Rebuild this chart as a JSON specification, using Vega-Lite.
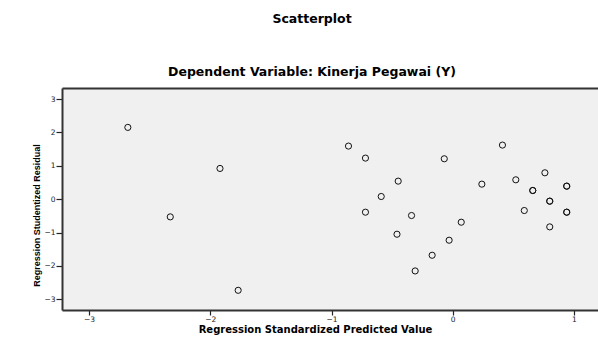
{
  "$schema": "https://vega.github.io/schema/vega-lite/v6.json",
  "width": 536,
  "height": 222,
  "autosize": {"type": "none"},
  "padding": {"left": 62, "top": 88, "right": 0, "bottom": 30},
  "background": "white",
  "title": {
    "text": "Scatterplot",
    "subtitle": "Dependent Variable: Kinerja Pegawai (Y)",
    "anchor": "middle",
    "dx": -18,
    "offset": 10,
    "font": "DejaVu Sans",
    "fontSize": 12.5,
    "fontWeight": "bold",
    "color": "#000",
    "subtitleFont": "DejaVu Sans",
    "subtitleFontSize": 12.5,
    "subtitleFontWeight": "bold",
    "subtitleColor": "#000",
    "subtitlePadding": 40
  },
  "config": {"view": {"stroke": null, "fill": "#f0f0f0"}},
  "data": {
    "values": [
      {"x": -2.68, "y": 2.15},
      {"x": -2.33, "y": -0.53},
      {"x": -1.92, "y": 0.92},
      {"x": -1.77, "y": -2.73},
      {"x": -0.86, "y": 1.59},
      {"x": -0.72, "y": 1.23},
      {"x": -0.07, "y": 1.21},
      {"x": 0.41, "y": 1.62},
      {"x": 0.76, "y": 0.79},
      {"x": -0.45, "y": 0.54},
      {"x": 0.24, "y": 0.45},
      {"x": 0.52, "y": 0.58},
      {"x": 0.66, "y": 0.26},
      {"x": 0.66, "y": 0.26},
      {"x": 0.94, "y": 0.39},
      {"x": 0.94, "y": 0.39},
      {"x": -0.59, "y": 0.08},
      {"x": 0.80, "y": -0.06},
      {"x": 0.80, "y": -0.06},
      {"x": -0.72, "y": -0.39},
      {"x": -0.34, "y": -0.49},
      {"x": 0.59, "y": -0.34},
      {"x": 0.94, "y": -0.39},
      {"x": 0.94, "y": -0.39},
      {"x": 0.07, "y": -0.69},
      {"x": 0.80, "y": -0.83},
      {"x": -0.46, "y": -1.05},
      {"x": -0.03, "y": -1.23},
      {"x": -0.17, "y": -1.68},
      {"x": -0.31, "y": -2.15}
    ]
  },
  "layer": [
    {
      "mark": {"type": "point", "shape": "circle", "filled": false, "size": 38, "stroke": "#111", "strokeWidth": 1, "opacity": 1},
      "encoding": {
        "x": {
          "field": "x", "type": "quantitative",
          "scale": {"domain": [-3.223, 1.198], "nice": false, "zero": false},
          "axis": {
            "values": [-3, -2, -1, 0, 1],
            "grid": false,
            "domainColor": "#333", "domainWidth": 2,
            "tickSize": 5, "tickColor": "#222", "tickWidth": 1.2,
            "labelFont": "DejaVu Sans", "labelFontSize": 7.5, "labelColor": "#222", "labelPadding": 0,
            "title": "Regression Standardized Predicted Value",
            "titleFont": "DejaVu Sans", "titleFontSize": 10, "titleFontWeight": "bold", "titleColor": "#000",
            "titleBaseline": "alphabetic", "titleX": 253, "titleY": 22.5
          }
        },
        "y": {
          "field": "y", "type": "quantitative",
          "scale": {"domain": [-3.32, 3.33], "nice": false, "zero": false},
          "axis": {
            "values": [-3, -2, -1, 0, 1, 2, 3],
            "grid": false,
            "domainColor": "#333", "domainWidth": 2,
            "tickSize": 6, "tickColor": "#222", "tickWidth": 1.2,
            "labelFont": "DejaVu Sans", "labelFontSize": 7.5, "labelColor": "#222", "labelPadding": 1,
            "title": "Regression Studentized Residual",
            "titleFont": "Liberation Sans", "titleFontSize": 9, "titleFontWeight": "bold", "titleColor": "#000",
            "titleAngle": -90, "titleBaseline": "alphabetic", "titleX": -23, "titleY": 127
          }
        }
      }
    },
    {
      "mark": {"type": "point", "opacity": 0},
      "encoding": {
        "x": {
          "field": "x", "type": "quantitative",
          "axis": {"orient": "top", "labels": false, "ticks": false, "title": null, "grid": false, "domain": true, "domainColor": "#333", "domainWidth": 2}
        }
      }
    }
  ],
  "resolve": {"axis": {"x": "independent"}}
}
